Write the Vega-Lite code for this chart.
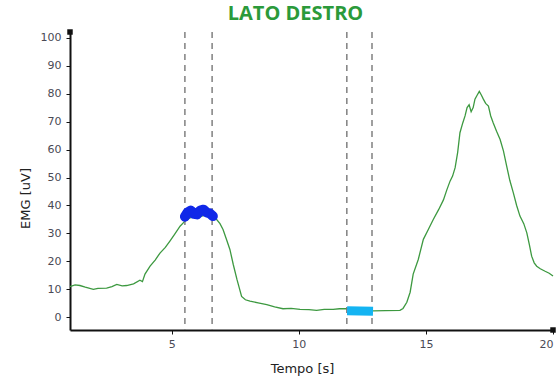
{
  "$schema": "https://vega.github.io/schema/vega-lite/v6.json",
  "width": 483,
  "height": 298,
  "autosize": {"type": "none"},
  "padding": {"left": 70, "top": 32, "right": 4, "bottom": 52},
  "background": "white",
  "title": {
    "text": "LATO DESTRO",
    "color": "#2b9a3a",
    "font": "Open Sans",
    "fontSize": 20,
    "fontWeight": "bold",
    "anchor": "middle",
    "dx": -16,
    "offset": 5
  },
  "config": {
    "view": {"stroke": null},
    "axis": {
      "grid": false,
      "domainColor": "#111",
      "domainWidth": 2,
      "tickColor": "#111",
      "tickSize": 4,
      "tickWidth": 1,
      "labelFont": "DejaVu Sans",
      "labelFontSize": 11,
      "labelColor": "#4a4a55",
      "labelOverlap": false,
      "titleFont": "DejaVu Sans",
      "titleFontWeight": "normal",
      "titleColor": "#222",
      "titleFontSize": 13
    },
    "axisY": {"tickCount": 11, "labelOverlap": false},
    "axisX": {"tickCount": 4}
  },
  "datasets": {
    "curve": [
      {"t": 1.00, "v": 11.0}, {"t": 1.2, "v": 11.6}, {"t": 1.39, "v": 11.4}, {"t": 1.6, "v": 10.8},
      {"t": 1.92, "v": 10.0}, {"t": 2.1, "v": 10.4}, {"t": 2.44, "v": 10.5}, {"t": 2.65, "v": 11.0},
      {"t": 2.84, "v": 11.8}, {"t": 3.05, "v": 11.3}, {"t": 3.23, "v": 11.4}, {"t": 3.5, "v": 12.0},
      {"t": 3.75, "v": 13.3}, {"t": 3.85, "v": 12.8}, {"t": 3.95, "v": 15.5}, {"t": 4.15, "v": 18.3},
      {"t": 4.35, "v": 20.5}, {"t": 4.54, "v": 23.0}, {"t": 4.75, "v": 25.0}, {"t": 4.93, "v": 27.3},
      {"t": 5.1, "v": 29.5}, {"t": 5.33, "v": 32.6}, {"t": 5.52, "v": 34.4}, {"t": 5.7, "v": 35.5},
      {"t": 5.9, "v": 36.2}, {"t": 6.11, "v": 36.0}, {"t": 6.3, "v": 36.5}, {"t": 6.5, "v": 36.0},
      {"t": 6.77, "v": 35.0}, {"t": 6.9, "v": 33.5}, {"t": 7.02, "v": 31.4}, {"t": 7.15, "v": 28.0},
      {"t": 7.29, "v": 24.3}, {"t": 7.42, "v": 19.0}, {"t": 7.57, "v": 13.5}, {"t": 7.75, "v": 7.5},
      {"t": 7.9, "v": 6.3}, {"t": 8.08, "v": 5.8}, {"t": 8.4, "v": 5.2}, {"t": 8.74, "v": 4.6},
      {"t": 9.05, "v": 3.8}, {"t": 9.38, "v": 3.1}, {"t": 9.7, "v": 3.2}, {"t": 10.05, "v": 2.9},
      {"t": 10.4, "v": 2.8}, {"t": 10.7, "v": 2.5}, {"t": 11.0, "v": 2.9}, {"t": 11.35, "v": 2.9},
      {"t": 11.6, "v": 3.1}, {"t": 11.89, "v": 3.1}, {"t": 12.4, "v": 2.6}, {"t": 12.93, "v": 2.3},
      {"t": 13.4, "v": 2.4}, {"t": 13.98, "v": 2.5}, {"t": 14.1, "v": 3.2}, {"t": 14.25, "v": 5.4},
      {"t": 14.38, "v": 9.0}, {"t": 14.5, "v": 15.5}, {"t": 14.7, "v": 20.7}, {"t": 14.9, "v": 27.9},
      {"t": 15.1, "v": 31.5}, {"t": 15.29, "v": 35.0}, {"t": 15.5, "v": 38.5}, {"t": 15.69, "v": 42.0},
      {"t": 15.82, "v": 45.5}, {"t": 15.95, "v": 48.7}, {"t": 16.05, "v": 50.5}, {"t": 16.15, "v": 53.5},
      {"t": 16.25, "v": 59.0}, {"t": 16.34, "v": 66.0}, {"t": 16.45, "v": 69.5}, {"t": 16.54, "v": 72.0},
      {"t": 16.62, "v": 75.0}, {"t": 16.7, "v": 76.0}, {"t": 16.78, "v": 73.5}, {"t": 16.86, "v": 75.0},
      {"t": 16.93, "v": 78.0}, {"t": 17.02, "v": 79.5}, {"t": 17.1, "v": 80.8}, {"t": 17.18, "v": 79.5},
      {"t": 17.26, "v": 78.0}, {"t": 17.35, "v": 76.5}, {"t": 17.46, "v": 75.5}, {"t": 17.55, "v": 72.0},
      {"t": 17.65, "v": 69.5}, {"t": 17.78, "v": 66.5}, {"t": 17.92, "v": 63.6}, {"t": 18.05, "v": 59.5},
      {"t": 18.18, "v": 54.0}, {"t": 18.3, "v": 49.0}, {"t": 18.44, "v": 44.5}, {"t": 18.57, "v": 40.0},
      {"t": 18.7, "v": 36.2}, {"t": 18.85, "v": 33.5}, {"t": 18.97, "v": 30.2}, {"t": 19.07, "v": 26.0},
      {"t": 19.16, "v": 21.9}, {"t": 19.26, "v": 19.5}, {"t": 19.36, "v": 18.3}, {"t": 19.5, "v": 17.4},
      {"t": 19.69, "v": 16.5}, {"t": 19.85, "v": 15.8}, {"t": 20.0, "v": 14.8}
    ],
    "markers": [
      {"t": 5.52}, {"t": 6.59}, {"t": 11.89}, {"t": 12.88}
    ],
    "blue": [
      {"t": 5.52, "v": 36.0}, {"t": 5.62, "v": 37.5}, {"t": 5.75, "v": 38.2}, {"t": 5.88, "v": 37.0},
      {"t": 6.0, "v": 36.8}, {"t": 6.12, "v": 38.2}, {"t": 6.25, "v": 38.5}, {"t": 6.38, "v": 37.5},
      {"t": 6.5, "v": 37.2}, {"t": 6.62, "v": 36.2}
    ],
    "cyan": [
      {"t": 11.9, "v": 2.4}, {"t": 12.4, "v": 2.3}, {"t": 12.92, "v": 2.2}
    ],
    "ends": [
      {"t": 20, "v": -4.5}, {"t": 1, "v": 102}
    ]
  },
  "layer": [
    {
      "data": {"name": "curve"},
      "mark": {"type": "line", "color": "#3d9940", "strokeWidth": 1.3},
      "encoding": {
        "x": {
          "field": "t", "type": "quantitative",
          "scale": {"domain": [1, 20], "nice": false, "zero": false},
          "axis": {"title": "Tempo [s]", "labelPadding": 4,
                   "titleX": 232, "titleY": 38, "titleBaseline": "middle", "titleAnchor": "middle"}
        },
        "y": {
          "field": "v", "type": "quantitative",
          "scale": {"domain": [-4.5, 102], "nice": false, "zero": false},
          "axis": {"title": "EMG [uV]",
                   "labelPadding": 5, "titleX": -45, "titleY": 166, "titleBaseline": "middle", "titleAnchor": "middle"}
        }
      }
    },
    {
      "data": {"name": "markers"},
      "mark": {"type": "rule", "color": "#777", "strokeWidth": 1.4, "strokeDash": [6, 5]},
      "encoding": {
        "x": {"field": "t", "type": "quantitative"}
      }
    },
    {
      "data": {"name": "blue"},
      "mark": {"type": "line", "color": "#1028e8", "strokeWidth": 10, "strokeCap": "round", "strokeJoin": "round"},
      "encoding": {
        "x": {"field": "t", "type": "quantitative"},
        "y": {"field": "v", "type": "quantitative"}
      }
    },
    {
      "data": {"name": "cyan"},
      "mark": {"type": "line", "color": "#14b4f2", "strokeWidth": 9, "strokeCap": "butt"},
      "encoding": {
        "x": {"field": "t", "type": "quantitative"},
        "y": {"field": "v", "type": "quantitative"}
      }
    },
    {
      "data": {"name": "ends"},
      "mark": {"type": "square", "color": "#111", "filled": true, "size": 30, "opacity": 1, "clip": false},
      "encoding": {
        "x": {"field": "t", "type": "quantitative"},
        "y": {"field": "v", "type": "quantitative"}
      }
    }
  ]
}
